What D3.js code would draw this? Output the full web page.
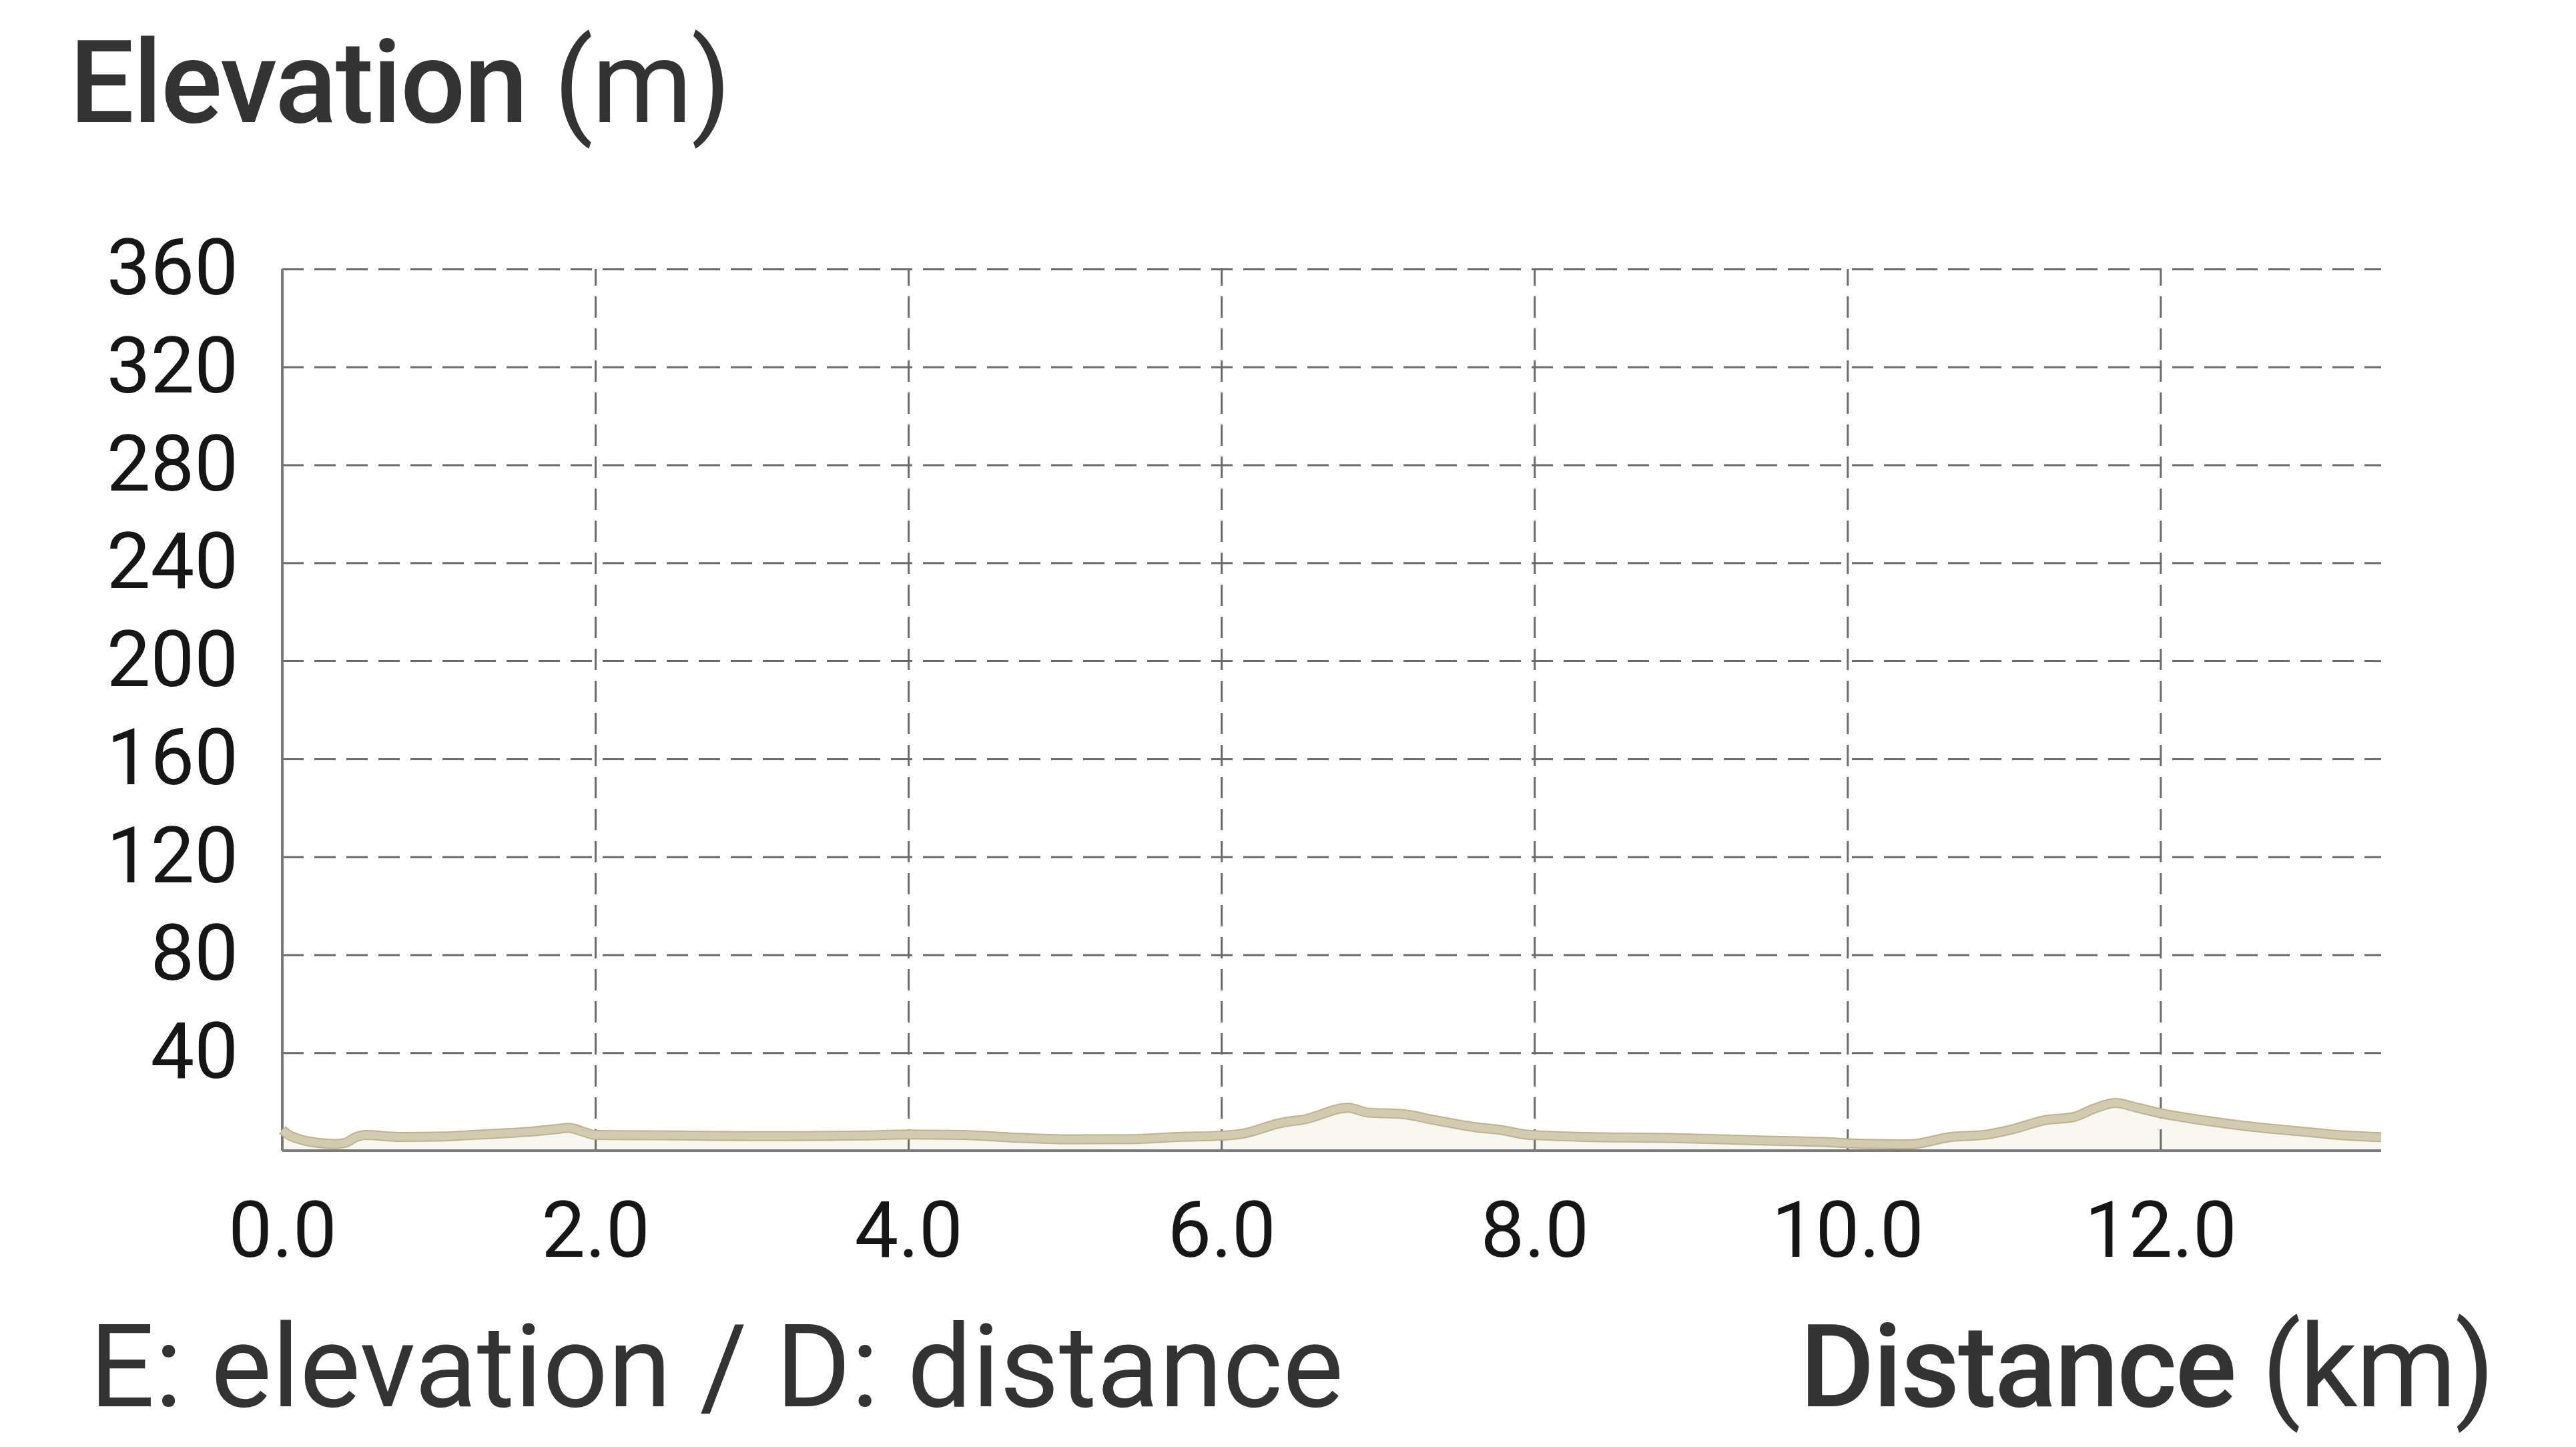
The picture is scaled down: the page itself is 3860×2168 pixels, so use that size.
<!DOCTYPE html>
<html>
<head>
<meta charset="utf-8">
<script src="https://cdn.jsdelivr.net/npm/d3@7"></script>
<style>
  html, body { margin: 0; padding: 0; background: #ffffff; }
  svg { display: block; }
</style>
</head>
<body>
<svg id="chart" width="3860" height="2168"></svg>
<script>
// ---- data ----
const distanceKm = [0.00, 0.04, 0.12, 0.20, 0.33, 0.40, 0.47, 0.53, 0.75, 1.04, 1.18, 1.40, 1.59, 1.75, 1.83, 1.92, 2.00,
  2.40, 2.80, 3.00, 3.40, 3.74, 4.00, 4.35, 4.65, 5.04, 5.42, 5.72, 6.00, 6.14, 6.36, 6.44, 6.51, 6.81, 6.94, 7.15,
  7.36, 7.62, 7.79, 7.94, 8.02, 8.32, 8.87, 9.41, 9.95, 10.00, 10.40, 10.66, 10.88, 11.07, 11.25, 11.45, 11.57,
  11.71, 11.86, 12.00, 12.23, 12.55, 12.87, 13.18, 13.41];
const elevationM = [8.5, 6.5, 4.5, 3.4, 2.7, 3.2, 5.5, 6.4, 5.6, 5.8, 6.3, 7.0, 7.8, 8.8, 9.3, 7.8, 6.4,
  6.3, 6.0, 5.9, 6.0, 6.2, 6.6, 6.4, 5.4, 4.6, 4.7, 5.6, 6.1, 7.0, 11.0, 12.0, 12.5, 17.5, 15.5, 15.0,
  12.5, 9.6, 8.4, 6.6, 6.3, 5.6, 5.2, 4.2, 3.2, 3.0, 2.6, 5.6, 6.5, 9.0, 12.3, 13.8, 17.0,
  19.5, 17.4, 15.3, 12.8, 10.0, 8.0, 6.2, 5.5];
const xTicks = [0, 2, 4, 6, 8, 10, 12];
const xTickLabels = ["0.0", "2.0", "4.0", "6.0", "8.0", "10.0", "12.0"];
const yTicks = [40, 80, 120, 160, 200, 240, 280, 320, 360];
const yTickLabels = ["40", "80", "120", "160", "200", "240", "280", "320", "360"];
const xMax = 13.41;
const yMax = 360;

const titleMain = "Elevation";
const titleUnit = "(m)";
const xTitleMain = "Distance";
const xTitleUnit = "(km)";
const legendText = "E: elevation / D: distance";

// ---- layout ----
const plotL = 423, plotR = 3568, plotT = 403, plotB = 1724;
const svg = d3.select("#chart");
const font = "Roboto, 'Noto Sans', sans-serif";

const x = d3.scaleLinear().domain([0, xMax]).range([plotL, plotR]);
const y = d3.scaleLinear().domain([0, yMax]).range([plotB, plotT]);

const data = distanceKm.map((d, i) => ({ d, e: elevationM[i] }));

// area fill
const area = d3.area().x(p => x(p.d)).y0(y(0)).y1(p => y(p.e)).curve(d3.curveMonotoneX);
svg.append("path").datum(data).attr("d", area).attr("fill", "#f8f6f0");

// horizontal gridlines + y labels
const yAxis = d3.axisLeft(y).tickValues(yTicks).tickSize(-(plotR - plotL)).tickPadding(66)
  .tickFormat((d, i) => yTickLabels[i]);
const gy = svg.append("g").attr("transform", `translate(${plotL},0)`).call(yAxis);
gy.select(".domain").remove();
gy.selectAll(".tick line").attr("stroke", "#6a6a6a").attr("stroke-width", 3).attr("stroke-dasharray", "32,16");
gy.selectAll(".tick text").attr("font-family", font).attr("font-size", 117).attr("fill", "#161616")
  .attr("dy", "0.32em");

// vertical gridlines + x labels
const xAxis = d3.axisBottom(x).tickValues(xTicks).tickSize(-(plotB - plotT)).tickPadding(0)
  .tickFormat((d, i) => xTickLabels[i]);
const gx = svg.append("g").attr("transform", `translate(0,${plotB})`).call(xAxis);
gx.select(".domain").remove();
gx.selectAll(".tick line").attr("stroke", "#6a6a6a").attr("stroke-width", 3).attr("stroke-dasharray", "32,16")
  .filter(d => d === 0).remove();
gx.selectAll(".tick text").attr("font-family", font).attr("font-size", 117).attr("fill", "#161616")
  .attr("y", 159).attr("dy", 0);

// axis lines
svg.append("line").attr("x1", plotL).attr("x2", plotL).attr("y1", plotT).attr("y2", plotB)
  .attr("stroke", "#7a7a7a").attr("stroke-width", 4);
svg.append("line").attr("x1", plotL).attr("x2", plotR).attr("y1", plotB).attr("y2", plotB)
  .attr("stroke", "#7a7a7a").attr("stroke-width", 4);

// elevation line
const line = d3.line().x(p => x(p.d)).y(p => y(p.e)).curve(d3.curveMonotoneX);
svg.append("path").datum(data).attr("d", line).attr("fill", "none")
  .attr("stroke", "#bdb290").attr("stroke-width", 15).attr("stroke-linejoin", "round").attr("stroke-linecap", "butt");
svg.append("path").datum(data).attr("d", line).attr("fill", "none")
  .attr("stroke", "#d3cbb0").attr("stroke-width", 11).attr("stroke-linejoin", "round").attr("stroke-linecap", "butt");

// titles
const t1 = svg.append("text").attr("x", 104).attr("y", 183)
  .attr("font-family", font).attr("font-size", 172).attr("fill", "#333333").attr("letter-spacing", -2);
t1.append("tspan").attr("font-weight", 500).text(titleMain);
t1.append("tspan").attr("font-weight", 400).text(" " + titleUnit);

svg.append("text").attr("x", 134).attr("y", 2107)
  .attr("font-family", font).attr("font-size", 172).attr("fill", "#333333").attr("font-weight", 400)
  .text(legendText);

const t2 = svg.append("text").attr("x", 3736).attr("y", 2107).attr("text-anchor", "end")
  .attr("font-family", font).attr("font-size", 172).attr("fill", "#333333").attr("letter-spacing", -2.5);
t2.append("tspan").attr("font-weight", 500).text(xTitleMain);
t2.append("tspan").attr("font-weight", 400).text(" " + xTitleUnit);
</script>
</body>
</html>
